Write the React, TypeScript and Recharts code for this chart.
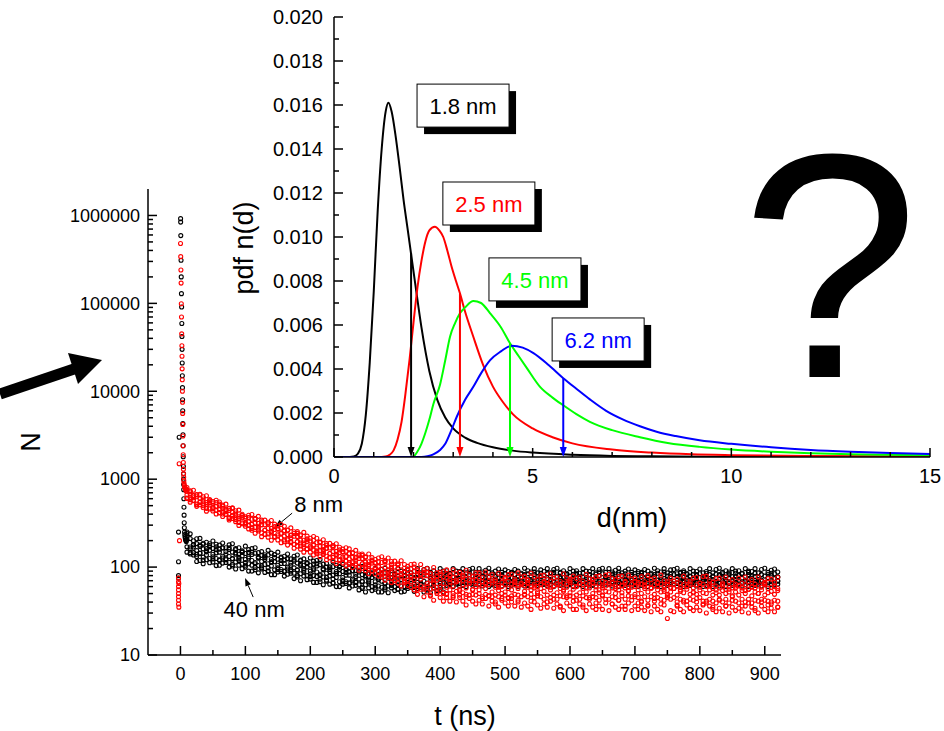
import React from "react";
import {
  ScatterChart,
  Scatter,
  LineChart,
  Line,
  XAxis,
  YAxis,
  ReferenceLine,
  ReferenceDot,
} from "recharts";

const FONT = "'Liberation Sans', Arial, Helvetica, sans-serif";

// ---- decay curves N(t), t in ns ----
const times = [
  10, 15, 20, 25, 30, 35, 40, 45, 50, 55,
  60, 65, 70, 75, 80, 85, 90, 95, 100, 105,
  110, 115, 120, 125, 130, 135, 140, 145, 150, 155,
  160, 165, 170, 175, 180, 185, 190, 195, 200, 205,
  210, 215, 220, 225, 230, 235, 240, 245, 250, 255,
  260, 265, 270, 275, 280, 285, 290, 295, 300, 305,
  310, 315, 320, 325, 330, 335, 340, 345, 350, 355,
  360, 365, 370, 375, 380, 385, 390, 395, 400, 405,
  410, 415, 420, 425, 430, 435, 440, 445, 450, 455,
  460, 465, 470, 475, 480, 485, 490, 495, 500, 505,
  510, 515, 520, 525, 530, 535, 540, 545, 550, 555,
  560, 565, 570, 575, 580, 585, 590, 595, 600, 605,
  610, 615, 620, 625, 630, 635, 640, 645, 650, 655,
  660, 665, 670, 675, 680, 685, 690, 695, 700, 705,
  710, 715, 720, 725, 730, 735, 740, 745, 750, 755,
  760, 765, 770, 775, 780, 785, 790, 795, 800, 805,
  810, 815, 820, 825, 830, 835, 840, 845, 850, 855,
  860, 865, 870, 875, 880, 885, 890, 895, 900, 905,
  910, 915, 920,
];

// 8 nm sample (red): several readings per time across the noisy band
const redHi = [
  805, 718, 749, 670, 663, 595, 647, 586, 558, 576,
  551, 493, 520, 467, 465, 413, 445, 399, 373, 389,
  396, 357, 378, 342, 342, 309, 339, 308, 294, 305,
  291, 264, 279, 252, 253, 227, 248, 225, 213, 223,
  213, 193, 205, 185, 186, 168, 184, 168, 160, 166,
  161, 145, 155, 141, 141, 129, 141, 128, 122, 127,
  131, 119, 127, 116, 117, 106, 118, 107, 102, 107,
  108, 93, 107, 93, 96, 84, 99, 86, 82, 89,
  93, 82, 93, 84, 87, 78, 92, 82, 78, 86,
  86, 76, 88, 78, 82, 72, 85, 77, 74, 82,
  83, 73, 86, 77, 79, 71, 85, 77, 72, 80,
  81, 72, 84, 75, 77, 69, 84, 75, 73, 79,
  74, 77, 69, 83, 74, 72, 78, 79, 69, 81,
  83, 74, 72, 78, 79, 69, 81, 73, 75, 67,
  78, 68, 80, 72, 75, 67, 81, 70, 68, 75,
  69, 73, 65, 79, 70, 68, 75, 76, 66, 78,
  79, 70, 67, 74, 75, 66, 77, 68, 72, 64,
  75, 66, 77, 68, 72, 64, 77, 69, 67, 74,
  73, 67, 76,
];
const redUp = [
  734, 737, 643, 662, 604, 630, 543, 567, 535, 542,
  502, 507, 445, 461, 423, 438, 374, 386, 358, 365,
  350, 356, 314, 327, 303, 318, 276, 289, 272, 277,
  258, 263, 232, 241, 223, 233, 202, 210, 198, 202,
  189, 192, 171, 177, 165, 173, 151, 157, 149, 151,
  142, 145, 129, 135, 125, 131, 115, 120, 113, 115,
  113, 114, 103, 108, 100, 106, 93, 97, 92, 95,
  89, 91, 83, 87, 80, 85, 75, 79, 74, 77,
  75, 72, 76, 68, 72, 70, 73, 70, 71, 65,
  64, 68, 66, 69, 66, 69, 62, 67, 64, 69,
  64, 67, 61, 66, 62, 67, 60, 64, 60, 63,
  67, 64, 69, 61, 65, 63, 66, 64, 67, 61,
  60, 65, 63, 65, 63, 66, 60, 65, 61, 67,
  63, 66, 60, 65, 61, 67, 59, 64, 60, 64,
  64, 60, 65, 58, 63, 60, 64, 60, 64, 58,
  57, 61, 59, 63, 60, 64, 58, 63, 59, 64,
  60, 64, 57, 61, 58, 63, 56, 60, 58, 61,
  61, 58, 63, 56, 60, 58, 61, 59, 63, 57,
  59, 61, 57,
];
const redMid = [
  660, 676, 614, 631, 542, 561, 519, 541, 480, 487,
  451, 465, 426, 440, 380, 390, 358, 368, 322, 328,
  306, 317, 292, 303, 264, 275, 257, 268, 238, 242,
  225, 234, 216, 224, 195, 202, 188, 195, 173, 177,
  165, 172, 158, 164, 143, 150, 140, 146, 130, 132,
  124, 129, 120, 125, 109, 114, 107, 111, 99, 101,
  95, 99, 92, 96, 85, 89, 83, 87, 78, 80,
  72, 80, 73, 79, 65, 71, 66, 71, 60, 65,
  59, 67, 61, 68, 56, 63, 58, 65, 55, 60,
  55, 62, 57, 63, 52, 59, 54, 60, 52, 57,
  55, 63, 57, 65, 53, 59, 55, 61, 52, 57,
  53, 60, 55, 61, 51, 57, 53, 59, 51, 56,
  60, 51, 57, 52, 58, 50, 55, 51, 58, 53,
  52, 58, 50, 55, 51, 58, 53, 59, 49, 55,
  50, 57, 52, 58, 49, 55, 52, 56, 49, 52,
  57, 48, 53, 51, 56, 49, 52, 49, 55, 51,
  50, 55, 48, 51, 48, 54, 50, 56, 47, 52,
  48, 54, 50, 56, 47, 52, 50, 55, 48, 51,
  53, 49, 54,
];
const redDown = [
  611, 620, 574, 523, 554, 499, 511, 458, 472, 442,
  418, 426, 398, 365, 389, 347, 352, 311, 316, 298,
  275, 283, 266, 245, 263, 238, 245, 221, 227, 214,
  203, 209, 196, 181, 194, 174, 180, 161, 165, 156,
  148, 153, 144, 133, 143, 129, 134, 120, 124, 117,
  112, 115, 109, 101, 109, 99, 102, 91, 95, 89,
  82, 85, 81, 75, 81, 74, 77, 69, 71, 68,
  61, 63, 61, 56, 61, 56, 58, 52, 54, 51,
  49, 55, 50, 53, 48, 51, 49, 48, 49, 48,
  50, 46, 49, 47, 46, 48, 46, 44, 48, 45,
  47, 49, 48, 46, 49, 46, 49, 45, 47, 46,
  43, 48, 45, 48, 43, 47, 46, 45, 47, 46,
  48, 43, 47, 45, 43, 46, 45, 42, 47, 43,
  43, 46, 45, 42, 47, 43, 47, 42, 46, 45,
  41, 46, 42, 46, 41, 45, 43, 42, 45, 43,
  45, 40, 43, 42, 41, 43, 42, 40, 45, 41,
  41, 43, 41, 39, 43, 40, 43, 39, 42, 41,
  39, 43, 40, 43, 39, 42, 41, 40, 42, 41,
  40, 42, 41,
];
const redLo = [
  603, 548, 571, 491, 511, 473, 433, 470, 435, 402,
  412, 377, 396, 343, 358, 329, 298, 319, 291, 272,
  263, 243, 257, 222, 235, 219, 202, 219, 203, 189,
  194, 178, 190, 164, 173, 160, 148, 160, 148, 137,
  142, 131, 139, 121, 128, 119, 110, 120, 111, 103,
  107, 99, 105, 92, 97, 91, 84, 91, 84, 79,
  77, 71, 76, 67, 70, 66, 61, 67, 62, 59,
  55, 49, 56, 46, 52, 47, 42, 50, 45, 41,
  45, 41, 47, 40, 45, 41, 37, 44, 41, 38,
  42, 38, 44, 36, 41, 38, 35, 42, 39, 36,
  40, 36, 42, 35, 39, 36, 33, 40, 37, 34,
  38, 35, 41, 34, 38, 35, 32, 39, 36, 33,
  33, 38, 35, 32, 38, 35, 33, 36, 33, 39,
  32, 38, 35, 33, 36, 33, 39, 32, 36, 33,
  35, 32, 37, 31, 36, 33, 31, 37, 26, 32,
  31, 36, 33, 31, 37, 34, 32, 35, 32, 37,
  30, 36, 33, 31, 34, 31, 36, 30, 35, 32,
  34, 31, 36, 30, 35, 32, 30, 36, 33, 31,
  34, 31, 35,
];
const redSpread = [
  762, 585, 651, 512, 673, 523, 466, 567, 460, 492,
  521, 402, 452, 357, 472, 363, 321, 385, 308, 332,
  284, 351, 277, 303, 236, 324, 254, 222, 273, 240,
  260, 203, 229, 181, 242, 188, 169, 205, 166, 179,
  153, 190, 150, 164, 128, 176, 139, 121, 149, 131,
  143, 112, 127, 101, 136, 106, 96, 117, 95, 102,
  86, 116, 86, 100, 71, 109, 82, 70, 93, 79,
  100, 56, 83, 59, 87, 48, 71, 59, 88, 50,
  50, 79, 45, 71, 54, 81, 46, 65, 56, 71,
  75, 44, 65, 47, 70, 40, 59, 50, 76, 44,
  44, 69, 40, 63, 48, 71, 41, 58, 50, 64,
  69, 40, 59, 43, 63, 36, 55, 47, 70, 41,
  42, 65, 37, 59, 45, 67, 39, 55, 48, 61,
  66, 38, 57, 42, 62, 36, 54, 46, 68, 39,
  40, 63, 36, 58, 44, 66, 38, 53, 47, 59,
  64, 37, 55, 40, 60, 34, 51, 44, 66, 38,
  39, 61, 35, 55, 42, 63, 36, 52, 46, 58,
  62, 36, 54, 39, 59, 34, 50, 43, 65, 37,
  38, 60, 35,
];
const redSpikeT = [
  -3, -3, -3, -3, -3, -3, -3, -3, -2.5, -2.5, -2, -1.5,
  0.1, 0.4, 0.7, 1.0, 1.3, 1.6, 1.9, 2.2, 2.4, 2.6,
  2.8, 3.0, 3.2, 3.4, 3.6, 3.8, 4.0, 4.2, 4.4, 4.6,
  4.8, 5.0, 5.2, 5.5, 6.0, 6.5, 7.0, 7.5, 8.0, 9.0,
];
const redSpikeN = [
  75, 68, 60, 55, 50, 46, 42, 38, 35, 65, 1500, 200,
  480000, 340000, 240000, 170000, 99000, 70000, 45000, 33000, 25000, 18000,
  13500, 10000, 7500, 5600, 4200, 3100, 2400, 1900, 1550, 1300,
  1150, 1050, 960, 900, 850, 820, 800, 780, 760, 730,
];

// 40 nm sample (black): several readings per time across the noisy band
const blackHi = [
  251, 239, 199, 210, 212, 187, 192, 176, 198, 182,
  178, 188, 166, 179, 184, 162, 166, 153, 173, 158,
  162, 166, 146, 150, 138, 155, 144, 139, 148, 130,
  133, 141, 124, 133, 137, 120, 124, 113, 127, 117,
  119, 122, 108, 110, 101, 114, 105, 102, 107, 95,
  98, 104, 91, 99, 102, 89, 92, 86, 96, 90,
  94, 97, 87, 91, 85, 96, 90, 89, 95, 86,
  89, 96, 86, 94, 97, 87, 91, 85, 96, 90,
  91, 85, 96, 90, 89, 96, 86, 94, 97, 87,
  96, 88, 92, 97, 86, 90, 95, 87, 93, 89,
  87, 94, 90, 85, 97, 91, 88, 96, 86, 93,
  89, 96, 86, 94, 97, 87, 91, 85, 96, 90,
  91, 85, 96, 90, 89, 96, 86, 94, 97, 87,
  96, 88, 92, 97, 86, 90, 95, 87, 93, 89,
  87, 94, 90, 85, 97, 91, 88, 96, 86, 93,
  94, 97, 87, 91, 85, 96, 90, 89, 95, 86,
  89, 96, 86, 94, 97, 87, 91, 85, 96, 90,
  91, 85, 96, 90, 89, 96, 86, 94, 97, 87,
  92, 95, 88,
];
const blackUp = [
  226, 211, 180, 185, 172, 182, 162, 170, 163, 170,
  160, 166, 150, 159, 148, 158, 140, 148, 143, 147,
  139, 144, 129, 136, 128, 137, 122, 128, 123, 127,
  120, 125, 111, 117, 111, 118, 105, 109, 105, 108,
  103, 106, 95, 100, 94, 101, 89, 94, 89, 93,
  88, 91, 83, 88, 82, 87, 77, 83, 79, 83,
  82, 78, 85, 76, 82, 79, 83, 80, 84, 77,
  76, 82, 79, 83, 80, 84, 77, 82, 78, 85,
  80, 84, 77, 82, 78, 85, 76, 82, 79, 83,
  82, 78, 85, 76, 82, 79, 83, 80, 84, 77,
  76, 82, 79, 83, 80, 84, 77, 82, 78, 85,
  80, 84, 77, 82, 78, 85, 76, 82, 79, 83,
  82, 78, 85, 76, 82, 79, 83, 80, 84, 77,
  76, 82, 79, 83, 80, 84, 77, 82, 78, 85,
  80, 84, 77, 82, 78, 85, 76, 82, 79, 83,
  82, 78, 85, 76, 82, 79, 83, 80, 84, 77,
  76, 82, 79, 83, 80, 84, 77, 82, 78, 85,
  80, 84, 77, 82, 78, 85, 76, 82, 79, 83,
  80, 84, 77,
];
const blackMid = [
  208, 169, 169, 154, 144, 161, 149, 155, 140, 145,
  148, 133, 141, 132, 125, 140, 129, 134, 122, 126,
  119, 113, 126, 116, 122, 109, 114, 115, 105, 110,
  110, 100, 105, 98, 93, 104, 96, 100, 90, 93,
  88, 83, 93, 85, 89, 81, 84, 84, 76, 81,
  81, 73, 78, 73, 69, 77, 71, 76, 68, 72,
  69, 66, 75, 70, 75, 68, 72, 74, 67, 72,
  74, 67, 72, 69, 66, 75, 70, 75, 68, 72,
  70, 75, 68, 72, 74, 67, 72, 69, 66, 75,
  72, 68, 75, 70, 66, 73, 69, 74, 67, 71,
  67, 74, 71, 68, 75, 66, 72, 69, 73, 70,
  74, 67, 72, 69, 66, 75, 70, 75, 68, 72,
  70, 75, 68, 72, 74, 67, 72, 69, 66, 75,
  72, 68, 75, 70, 66, 73, 69, 74, 67, 71,
  67, 74, 71, 68, 75, 66, 72, 69, 73, 70,
  69, 66, 75, 70, 75, 68, 72, 74, 67, 72,
  74, 67, 72, 69, 66, 75, 70, 75, 68, 72,
  70, 75, 68, 72, 74, 67, 72, 69, 66, 75,
  71, 74, 69,
];
const blackDown = [
  170, 161, 146, 132, 143, 130, 137, 125, 131, 125,
  121, 127, 121, 113, 124, 114, 119, 108, 113, 109,
  105, 109, 104, 98, 107, 98, 103, 93, 98, 94,
  90, 95, 90, 85, 92, 84, 88, 80, 84, 80,
  78, 80, 77, 71, 79, 73, 76, 68, 71, 68,
  66, 70, 67, 63, 68, 63, 66, 60, 63, 61,
  59, 65, 61, 64, 60, 63, 61, 60, 64, 62,
  64, 60, 63, 61, 60, 64, 62, 59, 65, 61,
  66, 70, 67, 69, 65, 71, 68, 66, 70, 67,
  69, 65, 71, 67, 70, 66, 68, 71, 65, 69,
  66, 70, 67, 69, 65, 71, 68, 66, 70, 67,
  69, 65, 71, 67, 70, 66, 68, 71, 65, 69,
  66, 70, 67, 69, 65, 71, 68, 66, 70, 67,
  69, 65, 71, 67, 70, 66, 68, 71, 65, 69,
  66, 70, 67, 69, 65, 71, 68, 66, 70, 67,
  69, 65, 71, 67, 70, 66, 68, 71, 65, 69,
  66, 70, 67, 69, 65, 71, 68, 66, 70, 67,
  69, 65, 71, 67, 70, 66, 68, 71, 65, 69,
  68, 66, 70,
];
const blackLo = [
  148, 141, 137, 116, 119, 109, 121, 112, 114, 104,
  105, 111, 113, 100, 103, 95, 105, 96, 100, 90,
  90, 93, 86, 95, 87, 90, 82, 82, 88, 89,
  79, 83, 85, 74, 77, 70, 79, 72, 73, 67,
  67, 68, 63, 69, 64, 66, 60, 60, 64, 65,
  58, 61, 62, 55, 57, 52, 58, 54, 56, 52,
  52, 55, 51, 58, 54, 56, 52, 53, 57, 59,
  53, 57, 59, 52, 55, 51, 58, 54, 56, 52,
  62, 65, 60, 64, 61, 63, 60, 65, 62, 64,
  64, 61, 63, 60, 65, 62, 64, 61, 63, 60,
  62, 65, 60, 64, 61, 63, 60, 65, 62, 64,
  64, 61, 63, 60, 65, 62, 64, 61, 63, 60,
  62, 65, 60, 64, 61, 63, 60, 65, 62, 64,
  64, 61, 63, 60, 65, 62, 64, 61, 63, 60,
  62, 65, 60, 64, 61, 63, 60, 65, 62, 64,
  64, 61, 63, 60, 65, 62, 64, 61, 63, 60,
  62, 65, 60, 64, 61, 63, 60, 65, 62, 64,
  64, 61, 63, 60, 65, 62, 64, 61, 63, 60,
  63, 61, 64,
];
const blackSpread = [
  240, 146, 179, 140, 178, 120, 153, 184, 124, 158,
  119, 165, 124, 166, 107, 145, 124, 148, 105, 131,
  148, 99, 129, 103, 133, 90, 115, 138, 94, 119,
  89, 124, 93, 123, 80, 108, 92, 110, 78, 97,
  109, 73, 95, 76, 98, 66, 85, 100, 68, 87,
  66, 91, 68, 92, 59, 80, 68, 84, 59, 75,
  85, 58, 77, 62, 82, 56, 72, 88, 60, 78,
  60, 84, 64, 87, 57, 78, 67, 82, 59, 75,
  85, 63, 77, 66, 82, 62, 72, 88, 65, 78,
  64, 84, 68, 87, 63, 78, 67, 82, 64, 75,
  85, 63, 77, 66, 82, 62, 72, 88, 65, 78,
  64, 84, 68, 87, 63, 78, 67, 82, 64, 75,
  85, 63, 77, 66, 82, 62, 72, 88, 65, 78,
  64, 84, 68, 87, 63, 78, 67, 82, 64, 75,
  85, 63, 77, 66, 82, 62, 72, 88, 65, 78,
  64, 84, 68, 87, 63, 78, 67, 82, 64, 75,
  85, 63, 77, 66, 82, 62, 72, 88, 65, 78,
  64, 84, 68, 87, 63, 78, 67, 82, 64, 75,
  85, 63, 77,
];
const blackSpikeT = [
  -3, -3, -3, -3, -2,
  0.2, 0.3, 0.5, 0.9, 1.2, 1.5, 1.8, 2.1, 2.3, 2.5,
  2.7, 2.9, 3.1, 3.3, 3.5, 3.7, 3.9, 4.1, 4.3, 4.5,
  4.7, 4.8, 4.9, 5.0, 5.2, 5.4, 5.6, 5.8, 6.0, 6.3,
  6.6, 7.0, 7.5, 8.0, 8.5, 9.0,
];
const blackSpikeN = [
  250, 115, 80, 75, 3000,
  920000, 840000, 590000, 310000, 200000, 129000, 91000, 59000, 42000, 30000,
  21000, 15000, 11000, 8000, 6000, 4300, 3200, 2400, 1800, 1400,
  1150, 1000, 870, 760, 600, 480, 390, 320, 280, 250,
  235, 222, 212, 205, 200, 195,
];

const timeTicks = [0, 50, 100, 150, 200, 250, 300, 350, 400, 450, 500, 550, 600, 650, 700, 750, 800, 850, 900];
const decadeTicks = [10, 100, 1000, 10000, 100000, 1000000];
const logTicks = [
  10, 20, 30, 40, 50, 60, 70, 80, 90,
  100, 200, 300, 400, 500, 600, 700, 800, 900,
  1000, 2000, 3000, 4000, 5000, 6000, 7000, 8000, 9000,
  10000, 20000, 30000, 40000, 50000, 60000, 70000, 80000, 90000,
  100000, 200000, 300000, 400000, 500000, 600000, 700000, 800000, 900000,
  1000000,
];

// ---- inset: size distributions pdf n(d), d in nm ----
const blackD = [0, 0.4, 0.5, 0.6, 0.7, 0.8, 0.9, 1.0, 1.1, 1.2, 1.3, 1.37, 1.45, 1.55, 1.65, 1.75, 1.85, 1.95, 2.05, 2.2, 2.4, 2.6, 2.8, 3.0, 3.3, 3.6, 4.0, 4.5, 5.0, 6.0, 7.0, 8.0, 10.0, 15.0];
const blackPdf = [0, 0, 0.00002, 0.00015, 0.0006, 0.0019, 0.0043, 0.0075, 0.0112, 0.014, 0.0157, 0.0161, 0.0157, 0.0146, 0.0132, 0.0117, 0.0104, 0.0091, 0.0078, 0.0059, 0.0039, 0.0026, 0.0018, 0.0013, 0.00088, 0.00064, 0.00044, 0.00029, 0.0002, 0.0001, 0.00005, 0.00003, 0.00001, 0];
const redD = [0, 1.2, 1.3, 1.4, 1.5, 1.6, 1.7, 1.8, 1.9, 2.0, 2.1, 2.2, 2.3, 2.4, 2.54, 2.65, 2.75, 2.85, 2.96, 3.07, 3.17, 3.3, 3.5, 3.75, 4.0, 4.25, 4.5, 5.0, 5.5, 6.0, 7.0, 8.0, 9.0, 10.0, 12.0, 15.0];
const redPdf = [0, 0, 0.00002, 0.0001, 0.0003, 0.0008, 0.0016, 0.0029, 0.0044, 0.0061, 0.0077, 0.0089, 0.0098, 0.0103, 0.01047, 0.0103, 0.01, 0.0094, 0.00865, 0.008, 0.00744, 0.0066, 0.0055, 0.0042, 0.0032, 0.0025, 0.00195, 0.0013, 0.0009, 0.00062, 0.00034, 0.0002, 0.00012, 0.00008, 0.00004, 0.00002];
const greenD = [0, 1.9, 2.0, 2.1, 2.2, 2.3, 2.4, 2.5, 2.67, 2.8, 2.92, 3.05, 3.17, 3.3, 3.51, 3.7, 3.93, 4.2, 4.43, 4.65, 4.85, 5.18, 5.5, 5.77, 6.1, 6.44, 7.0, 7.7, 8.4, 9.2, 10, 11, 12, 13, 14, 15];
const greenPdf = [0, 0, 0.00003, 0.00025, 0.0006, 0.0011, 0.0017, 0.0024, 0.0033, 0.0044, 0.00547, 0.0061, 0.00653, 0.0068, 0.00709, 0.007, 0.00653, 0.0059, 0.00517, 0.00458, 0.00405, 0.0032, 0.0027, 0.00235, 0.00195, 0.0016, 0.00122, 0.0009, 0.00064, 0.00046, 0.00034, 0.00024, 0.00017, 0.00013, 0.0001, 0.00008];
const blueD = [0, 2.2, 2.35, 2.5, 2.67, 2.8, 2.95, 3.09, 3.3, 3.51, 3.7, 3.93, 4.2, 4.47, 4.75, 5.02, 5.4, 5.77, 6.1, 6.44, 6.85, 7.28, 7.7, 8.12, 8.6, 9.2, 10, 11, 12, 13, 14, 15];
const bluePdf = [0, 0, 0.00003, 0.00012, 0.00032, 0.0006, 0.0012, 0.00183, 0.0026, 0.0032, 0.0038, 0.0044, 0.0048, 0.00506, 0.00497, 0.00472, 0.00418, 0.00358, 0.0031, 0.00262, 0.0021, 0.0017, 0.0014, 0.00115, 0.00095, 0.00076, 0.0006, 0.00044, 0.00032, 0.00024, 0.00018, 0.00014];

// mean sizes marked by the vertical arrows
const meanD = [1.94, 3.17, 4.43, 5.77];
const meanPdf = [0.00926, 0.00744, 0.00517, 0.00358];
const sizeLabels = ["1.8 nm", "2.5 nm", "4.5 nm", "6.2 nm"];
const curveColors = ["#000000", "#ff0000", "#00ff00", "#0000ff"];

const dTicks = [0, 1, 2, 3, 4, 5, 6, 7, 8, 9, 10, 11, 12, 13, 14, 15];
const pdfTicks = [
  0, 0.001, 0.002, 0.003, 0.004, 0.005, 0.006, 0.007, 0.008, 0.009, 0.01,
  0.011, 0.012, 0.013, 0.014, 0.015, 0.016, 0.017, 0.018, 0.019, 0.02,
];

// label boxes (top-left corner, in inset data coords) and text annotations
const boxAnchors = [
  { d: 2.09, v: 0.01695 },
  { d: 2.74, v: 0.0125 },
  { d: 3.9, v: 0.00905 },
  { d: 5.49, v: 0.00632 },
];
const decayNotes = [
  { text: "8 nm", from: { t: 172, n: 411 }, to: { t: 146, n: 285 }, place: "right" },
  { text: "40 nm", from: { t: 112, n: 45.6 }, to: { t: 99.5, n: 75 }, place: "below" },
];

const ink = { stroke: "#000", strokeWidth: 1.5 };

function arrowParts(x1: number, y1: number, x2: number, y2: number, head: number, half: number) {
  const len = Math.hypot(x2 - x1, y2 - y1) || 1;
  const ux = (x2 - x1) / len;
  const uy = (y2 - y1) / len;
  const bx = x2 - ux * head;
  const by = y2 - uy * head;
  const pts = `${x2},${y2} ${bx - uy * half},${by + ux * half} ${bx + uy * half},${by - ux * half}`;
  return { bx, by, pts };
}

const ring = (color: string) => (p: any) => (
  <circle cx={p.cx} cy={p.cy} r={2} fill="none" stroke={color} strokeWidth={1.1} />
);

function LogTick(props: any) {
  const { x, y, payload } = props;
  const v = payload.value;
  const major = decadeTicks.includes(v);
  return (
    <g>
      <line x1={x} y1={y} x2={x + (major ? 9 : 5)} y2={y} {...ink} />
      {major && (
        <text x={x - 8} y={y} dy="0.35em" textAnchor="end" fontSize={18} fontFamily={FONT} fill="#000">
          {String(v)}
        </text>
      )}
    </g>
  );
}

function TimeTick(props: any) {
  const { x, y, payload } = props;
  const v = payload.value;
  const major = v % 100 === 0;
  return (
    <g>
      <line x1={x} y1={y} x2={x} y2={y - (major ? 9 : 5)} {...ink} />
      {major && (
        <text x={x} y={y + 25} textAnchor="middle" fontSize={18} fontFamily={FONT} fill="#000">
          {String(v)}
        </text>
      )}
    </g>
  );
}

function PdfTick(props: any) {
  const { x, y, payload } = props;
  const v = payload.value;
  const major = Math.round(v * 1000) % 2 === 0;
  return (
    <g>
      <line x1={x} y1={y} x2={x + (major ? 9 : 5)} y2={y} {...ink} />
      {major && (
        <text x={x - 11} y={y} dy="0.35em" textAnchor="end" fontSize={20} fontFamily={FONT} fill="#000">
          {v.toFixed(3)}
        </text>
      )}
    </g>
  );
}

function PdfRightTick(props: any) {
  const { x, y, payload } = props;
  const major = Math.round(payload.value * 1000) % 2 === 0;
  return <line x1={x} y1={y} x2={x - (major ? 9 : 5)} y2={y} {...ink} />;
}

function DTick(props: any) {
  const { x, y, payload } = props;
  const v = payload.value;
  const major = v % 5 === 0;
  return (
    <g>
      <line x1={x} y1={y} x2={x} y2={y - (major ? 9 : 5)} {...ink} />
      {major && (
        <text x={x} y={y + 26} textAnchor="middle" fontSize={20} fontFamily={FONT} fill="#000">
          {String(v)}
        </text>
      )}
    </g>
  );
}

function DTopTick(props: any) {
  const { x, y, payload } = props;
  const major = payload.value % 5 === 0;
  return <line x1={x} y1={y} x2={x} y2={y + (major ? 9 : 5)} {...ink} />;
}

const toPoints = (spikeT: number[], spikeN: number[], rows: number[][]) => [
  ...spikeT.map((t, i) => ({ t, n: spikeN[i] })),
  ...times.flatMap((t, i) => rows.map((row) => ({ t, n: row[i] }))),
];
const blackPoints = toPoints(blackSpikeT, blackSpikeN, [blackHi, blackUp, blackSpread, blackMid, blackDown, blackLo]);
const redPoints = toPoints(redSpikeT, redSpikeN, [redHi, redUp, redSpread, redMid, redDown, redLo]);

const curves = [
  { d: blackD, pdf: blackPdf },
  { d: redD, pdf: redPdf },
  { d: greenD, pdf: greenPdf },
  { d: blueD, pdf: bluePdf },
].map((c, k) => ({
  color: curveColors[k],
  data: c.d.map((d, i) => ({ d, v: c.pdf[i] })),
}));

const layer: React.CSSProperties = { position: "absolute", left: 0, top: 0 };

export default function App() {
  return (
    <div style={{ position: "fixed", left: 0, top: 0, width: 944, height: 731, background: "#fff", fontFamily: FONT }}>
      {/* decay curves */}
      <div style={layer}>
        <ScatterChart width={944} height={731} margin={{ top: 189, right: 163, bottom: 0, left: 0 }}>
          <XAxis
            dataKey="t"
            type="number"
            domain={[-50, 925]}
            allowDataOverflow
            ticks={timeTicks}
            interval={0}
            tickSize={0}
            tickMargin={0}
            height={76}
            axisLine={ink}
            tickLine={false}
            tick={(p: any) => <TimeTick {...p} />}
          />
          <YAxis
            dataKey="n"
            type="number"
            scale="log"
            domain={[10, 2000000]}
            allowDataOverflow
            ticks={logTicks}
            interval={0}
            tickSize={0}
            tickMargin={0}
            width={148}
            axisLine={ink}
            tickLine={false}
            tick={(p: any) => <LogTick {...p} />}
          />
          <Scatter data={blackPoints} shape={ring("#000000")} isAnimationActive={false} />
          <Scatter data={redPoints} shape={ring("#ff0000")} isAnimationActive={false} />
          {decayNotes.map((nt) => (
            <ReferenceLine
              key={nt.text}
              segment={[
                { x: nt.from.t, y: nt.from.n },
                { x: nt.to.t, y: nt.to.n },
              ]}
              ifOverflow="visible"
              shape={(p: any) => {
                const a = arrowParts(p.x1, p.y1, p.x2, p.y2, 8, 3);
                return (
                  <g>
                    <line x1={p.x1} y1={p.y1} x2={a.bx} y2={a.by} stroke="#000" strokeWidth={1} />
                    <polygon points={a.pts} fill="#000" />
                    {nt.place === "right" ? (
                      <text x={p.x1 + 2} y={p.y1 - 1} fontSize={22} fontFamily={FONT} fill="#000">
                        {nt.text}
                      </text>
                    ) : (
                      <text x={p.x1 + 1} y={p.y1 + 20} textAnchor="middle" fontSize={22} fontFamily={FONT} fill="#000">
                        {nt.text}
                      </text>
                    )}
                  </g>
                );
              }}
            />
          ))}
        </ScatterChart>
      </div>

      {/* inset: size distributions */}
      <div style={layer}>
        <LineChart width={944} height={731} margin={{ top: 17, right: 14, bottom: 0, left: 0 }}>
          <XAxis
            dataKey="d"
            type="number"
            domain={[0, 15]}
            allowDataOverflow
            ticks={dTicks}
            interval={0}
            tickSize={0}
            tickMargin={0}
            height={274}
            axisLine={ink}
            tickLine={false}
            tick={(p: any) => <DTick {...p} />}
          />
          <XAxis
            xAxisId="top"
            orientation="top"
            dataKey="d"
            type="number"
            domain={[0, 15]}
            allowDataOverflow
            ticks={dTicks}
            interval={0}
            tickSize={0}
            tickMargin={0}
            height={0}
            axisLine={ink}
            tickLine={false}
            tick={(p: any) => <DTopTick {...p} />}
          />
          <YAxis
            type="number"
            domain={[0, 0.02]}
            allowDataOverflow
            ticks={pdfTicks}
            interval={0}
            tickSize={0}
            tickMargin={0}
            width={334}
            axisLine={ink}
            tickLine={false}
            tick={(p: any) => <PdfTick {...p} />}
          />
          <YAxis
            yAxisId="right"
            orientation="right"
            type="number"
            domain={[0, 0.02]}
            allowDataOverflow
            ticks={pdfTicks}
            interval={0}
            tickSize={0}
            tickMargin={0}
            width={0}
            axisLine={ink}
            tickLine={false}
            tick={(p: any) => <PdfRightTick {...p} />}
          />
          {curves.map((c) => (
            <Line
              key={c.color}
              data={c.data}
              dataKey="v"
              type="monotone"
              stroke={c.color}
              strokeWidth={2}
              dot={false}
              isAnimationActive={false}
            />
          ))}
          {meanD.map((d, i) => (
            <ReferenceLine
              key={"m" + i}
              segment={[
                { x: d, y: meanPdf[i] },
                { x: d, y: 0 },
              ]}
              ifOverflow="visible"
              shape={(p: any) => {
                const a = arrowParts(p.x1, p.y1, p.x2, p.y2, 10, 3.5);
                return (
                  <g>
                    <line x1={p.x1} y1={p.y1} x2={a.bx} y2={a.by} stroke={curveColors[i]} strokeWidth={2} />
                    <polygon points={a.pts} fill={curveColors[i]} />
                  </g>
                );
              }}
            />
          ))}
          {boxAnchors.map((b, i) => (
            <ReferenceDot
              key={"b" + i}
              x={b.d}
              y={b.v}
              r={0}
              ifOverflow="visible"
              shape={(p: any) => (
                <g>
                  <rect x={p.cx + 7} y={p.cy + 7} width={92} height={43} fill="#000" />
                  <rect x={p.cx} y={p.cy} width={92} height={43} fill="#fff" stroke="#000" strokeWidth={1} />
                  <text x={p.cx + 46} y={p.cy + 30} textAnchor="middle" fontSize={22} fontFamily={FONT} fill={curveColors[i]}>
                    {sizeLabels[i]}
                  </text>
                </g>
              )}
            />
          ))}
        </LineChart>
      </div>

      {/* titles and decorations */}
      <svg width={944} height={731} style={layer}>
        <line x1={0} y1={394} x2={74} y2={369} stroke="#000" strokeWidth={11} />
        <polygon points="102,360 68,353 78,384" fill="#000" />
        <text x={830} y={377} textAnchor="middle" fontSize={320} fontFamily={FONT} fill="#000">
          ?
        </text>
        <text x={31} y={442} dy="0.35em" textAnchor="middle" fontSize={27} fontFamily={FONT} transform="rotate(-90 31 442)">
          N
        </text>
        <text x={244} y={248} dy="0.35em" textAnchor="middle" fontSize={27} fontFamily={FONT} transform="rotate(-90 244 248)">
          pdf n(d)
        </text>
        <text x={465} y={725} textAnchor="middle" fontSize={27} fontFamily={FONT}>
          t (ns)
        </text>
        <text x={632} y={527} textAnchor="middle" fontSize={27} fontFamily={FONT}>
          d(nm)
        </text>
      </svg>
    </div>
  );
}
